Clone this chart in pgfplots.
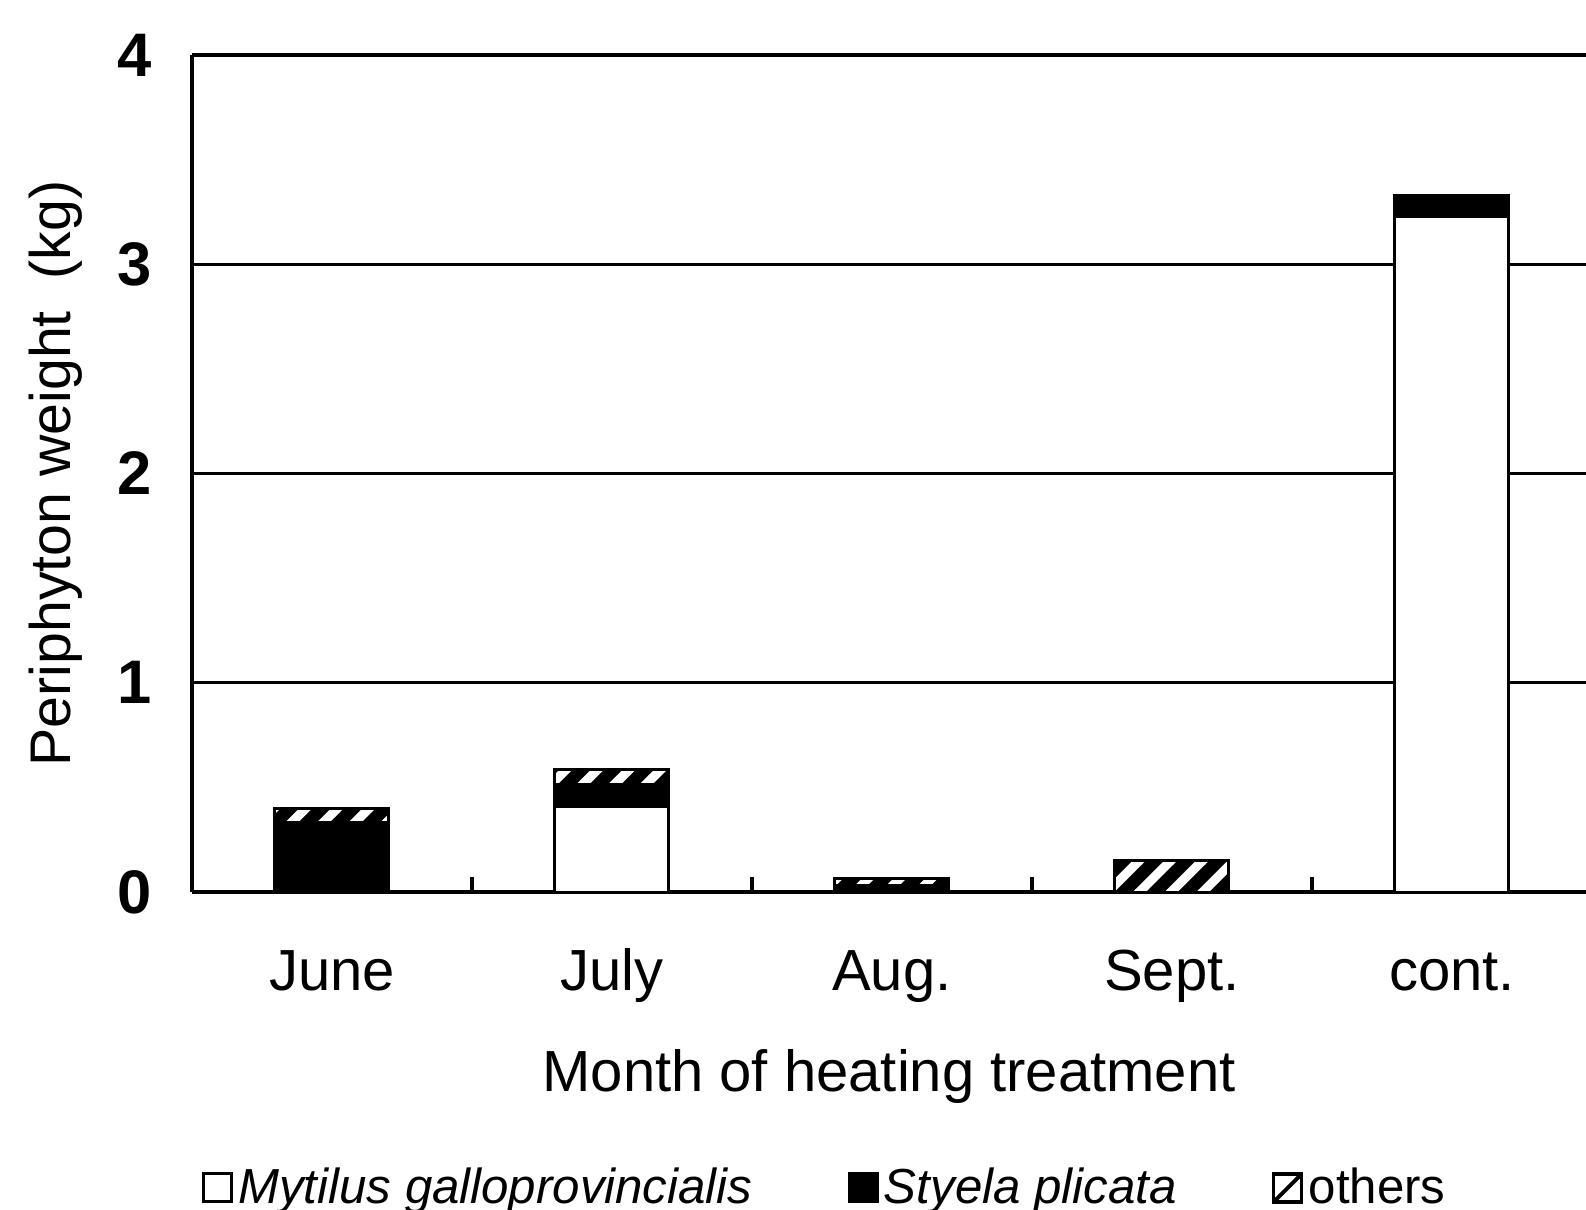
\documentclass[border=0pt]{standalone}
\usepackage{fontspec}
\setmainfont{Liberation Sans}
\usepackage{pgfplots}
\pgfplotsset{compat=1.18}
\usetikzlibrary{patterns}
\pgfdeclarepatternformonly{hatchw}{\pgfqpoint{-1pt}{-1pt}}{\pgfqpoint{10pt}{10pt}}{\pgfqpoint{9pt}{9pt}}{%
  \pgfsetlinewidth{2.6pt}%
  \pgfpathmoveto{\pgfqpoint{-0.5pt}{-0.5pt}}%
  \pgfpathlineto{\pgfqpoint{9.5pt}{9.5pt}}%
  \pgfusepath{stroke}}
\begin{document}
\begin{tikzpicture}
\begin{axis}[
  at={(0,0)}, anchor=south west,
  width=13.94cm, height=8.37cm, scale only axis,
  xmin=-0.5, xmax=4.479, ymin=0, ymax=4,
  ybar stacked, bar width=1.14cm,
  xtick={0,1,2,3,4}, xticklabels={June,July,Aug.,Sept.,cont.},
  major x tick style={draw=none},
  minor xtick={0.5,1.5,2.5,3.5},
  minor x tick style={black, line width=0.9pt},
  minor tick length=0.15cm,
  tick align=inside,
  xtick pos=bottom,
  ytick={0,1,2,3,4}, ytick style={draw=none},
  ymajorgrids, grid style={black, line width=0.9pt},
  axis x line=box, axis y line*=left,
  axis line style={line width=1pt, -},
  /pgf/number format/assume math mode=true,
  xticklabel style={font=\fontsize{16.5}{18}\selectfont, text height=12.6pt, text depth=5.4pt, yshift=-0.42cm},
  yticklabel style={font=\bfseries\fontsize{17.5}{18}\selectfont, xshift=-0.28cm},
  xlabel={Month of heating treatment},
  xlabel style={at={(axis description cs:0.5,-0.221)}, anchor=center, font=\fontsize{16.5}{18}\selectfont},
  ylabel={Periphyton weight\ \ (kg)},
  ylabel style={at={(axis description cs:-0.0976,0.5)}, anchor=center, font=\fontsize{16.3}{18}\selectfont},
  legend columns=3,
  legend style={draw=none, fill=none, inner sep=0pt, outer sep=0pt,
    at={(axis description cs:0.0072,-0.3536)}, anchor=west,
    font=\fontsize{14}{16}\selectfont,
    nodes={inner sep=1.5pt},
    /tikz/every even column/.append style={column sep=0.9cm}},
  legend image code/.code={\draw[#1] (0cm,-0.14cm) rectangle (0.28cm,0.14cm);},
]
\addplot[fill=white, draw=black, line width=0.85pt] coordinates {(0,0) (1,0.41) (2,0) (3,0) (4,3.23)};
\addplot[fill=black, draw=black, line width=0.85pt] coordinates {(0,0.33) (1,0.105) (2,0.03) (3,0) (4,0.10)};
\addplot[fill=black, draw=black, line width=0.85pt, postaction={pattern=hatchw, pattern color=white},
  legend image code/.code={\draw[black, fill=white, line width=1pt] (0cm,-0.14cm) rectangle (0.28cm,0.14cm); \draw[black, line width=1pt] (0cm,-0.14cm) -- (0.28cm,0.14cm);}]
  coordinates {(0,0.07) (1,0.07) (2,0.035) (3,0.15) (4,0)};
\legend{\textit{Mytilus galloprovincialis}, \textit{Styela plicata}, others}
\end{axis}
\pgfresetboundingbox
\path (-1.92cm,-3.17cm) rectangle (13.94cm,8.92cm);
\end{tikzpicture}
\end{document}
